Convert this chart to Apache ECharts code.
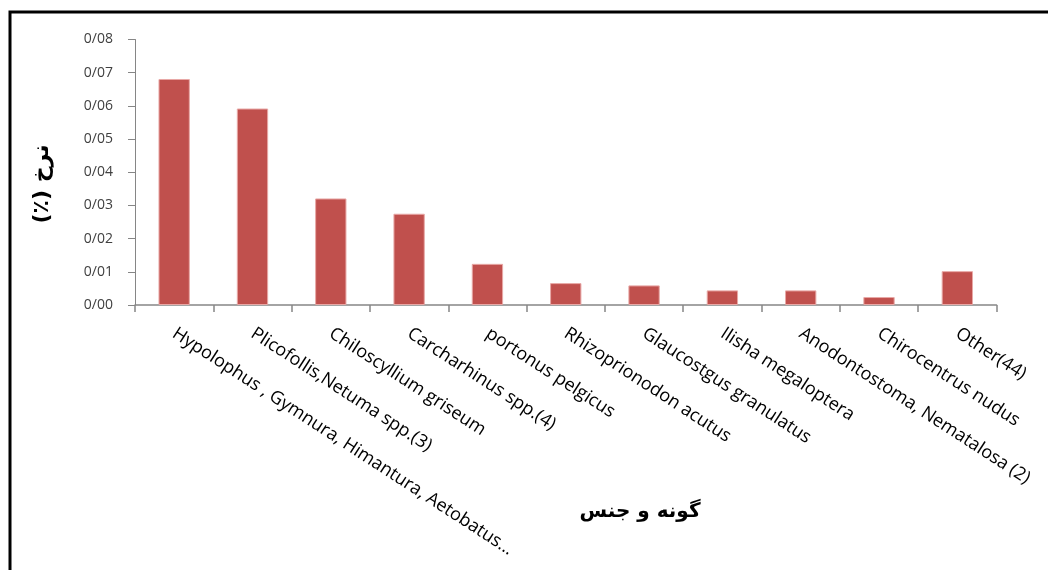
<!DOCTYPE html>
<html>
<head>
<meta charset="utf-8">
<script src="https://cdn.jsdelivr.net/npm/echarts@6/dist/echarts.min.js"></script>
<style>html,body{margin:0;padding:0;background:#fff}#c{width:1048px;height:570px}</style>
</head>
<body>
<div id="c"></div>
<script>
const categories = [
  'Hypolophus , Gymnura, Himantura, Aetobatus...',
  'Plicofollis,Netuma spp.(3)',
  'Chiloscyllium griseum',
  'Carcharhinus spp.(4)',
  'portonus pelgicus',
  'Rhizoprionodon acutus',
  'Glaucostgus granulatus',
  'Ilisha megaloptera',
  'Anodontostoma, Nematalosa (2)',
  'Chirocentrus nudus',
  'Other(44)'
];
const values = [0.0681, 0.0592, 0.0321, 0.0275, 0.0124, 0.0066, 0.0059, 0.0044, 0.0044, 0.0024, 0.0102];
const yTicks = ['0/00','0/01','0/02','0/03','0/04','0/05','0/06','0/07','0/08'];
const yTitle = '(٪) نرخ';
const xTitle = 'گونه و جنس';

const chart = echarts.init(document.getElementById('c'), null, {renderer: 'canvas'});
chart.setOption({
  animation: false,
  backgroundColor: '#fff',
  grid: {left: 135, top: 39.5, right: 51.5, bottom: 265, containLabel: false},
  xAxis: {
    type: 'category',
    data: categories,
    axisLine: {lineStyle: {color: '#868686', width: 1.5}},
    axisTick: {show: true, length: 7, lineStyle: {color: '#868686', width: 1.5}},
    axisLabel: {
      interval: 0, rotate: -33, margin: 27,
      fontFamily: 'Open Sans', fontSize: 18, color: '#000'
    }
  },
  yAxis: {
    type: 'value', min: 0, max: 0.08, interval: 0.01,
    axisLine: {show: true, lineStyle: {color: '#868686', width: 1}},
    axisTick: {show: true, length: 7, lineStyle: {color: '#868686'}},
    splitLine: {show: false},
    axisLabel: {
      margin: 22, fontFamily: 'Open Sans', fontSize: 14, color: '#404040',
      formatter: function (v) { return yTicks[Math.round(v * 100)]; }
    }
  },
  series: [{
    type: 'bar',
    data: values,
    barWidth: '40%',
    itemStyle: {color: '#C0504D', borderColor: '#E8A8A6', borderWidth: 1}
  }],
  graphic: [
    {type: 'rect', shape: {x: 10, y: 12, width: 1100, height: 600}, style: {fill: 'none', stroke: '#000', lineWidth: 3}, silent: true},
    {type: 'text', x: 42, y: 184, rotation: Math.PI / 2,
     style: {text: yTitle, font: 'bold 22px "DejaVu Sans"', fill: '#000', textAlign: 'center', textVerticalAlign: 'middle'}},
    {type: 'text', x: 640, y: 512,
     style: {text: xTitle, font: 'bold 20px "DejaVu Sans"', fill: '#000', textAlign: 'center', textVerticalAlign: 'middle'}}
  ]
});
</script>
</body>
</html>
